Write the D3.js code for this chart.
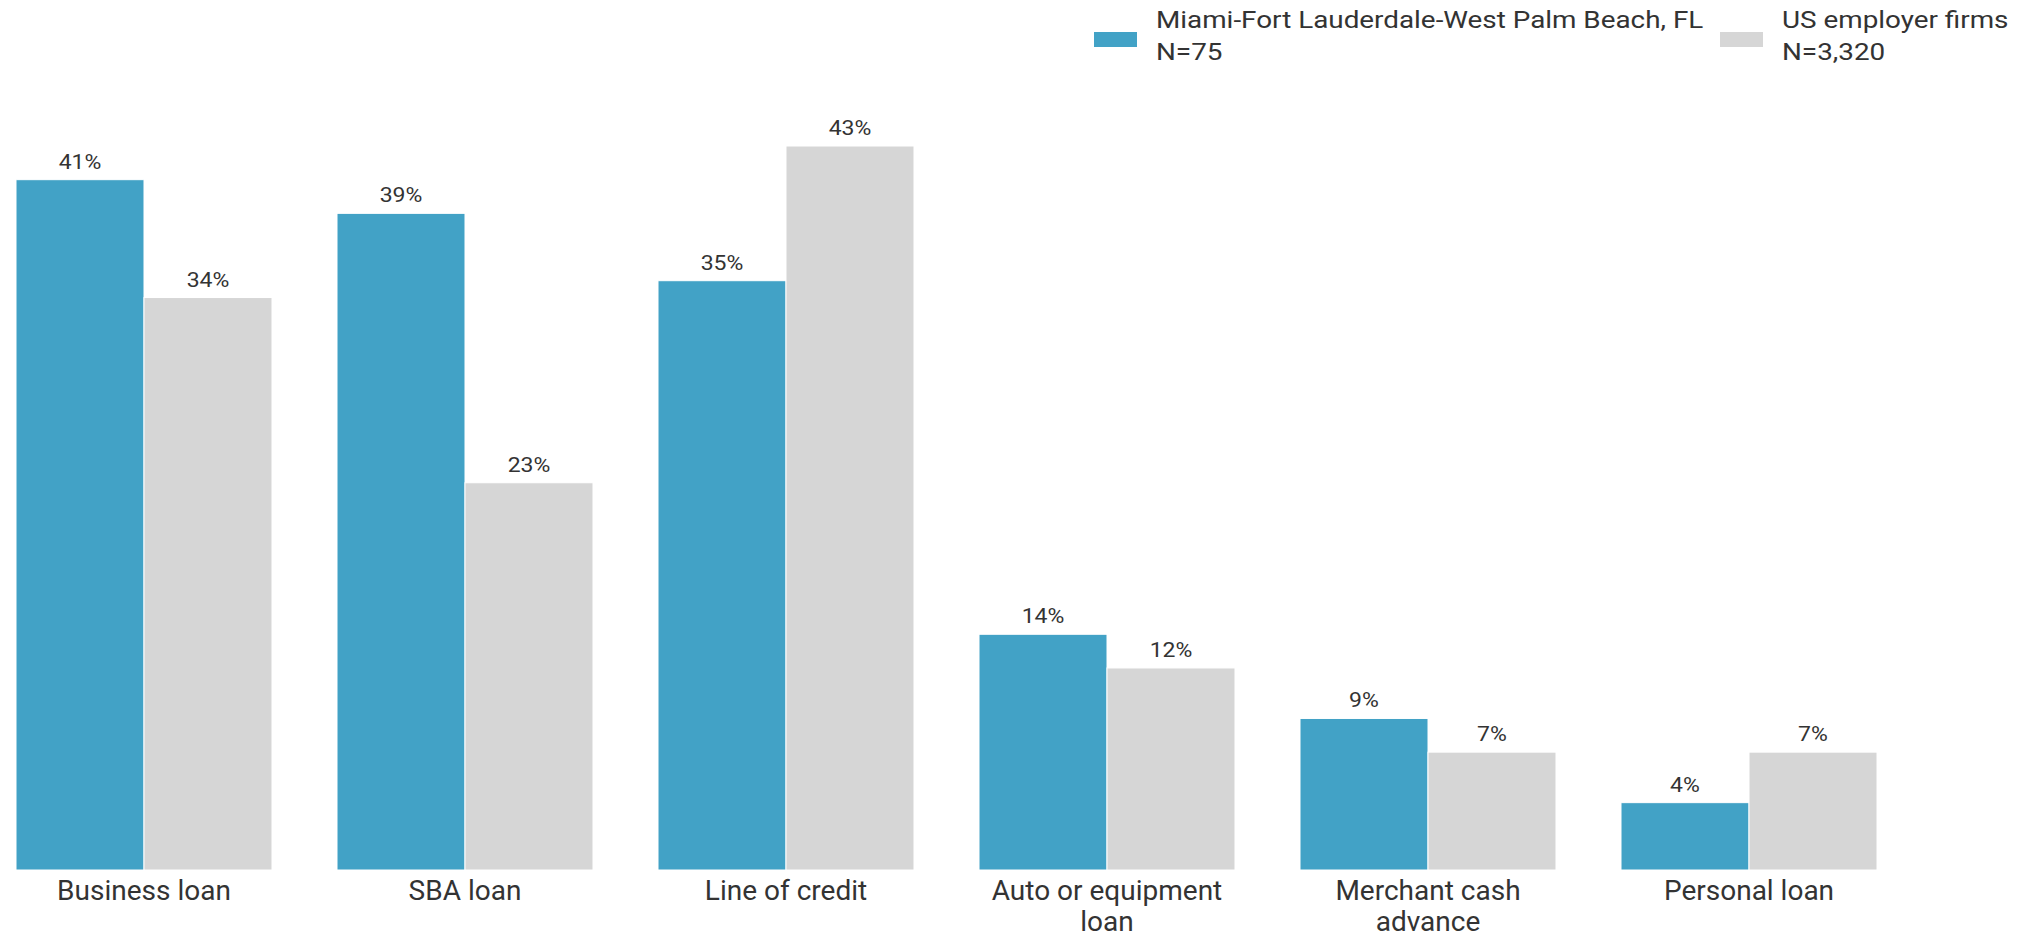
<!DOCTYPE html>
<html>
<head>
<meta charset="utf-8">
<script src="https://cdn.jsdelivr.net/npm/d3@7"></script>
<style>
html,body{margin:0;padding:0;background:#fff;}
svg{display:block;font-family:Roboto,"Noto Sans",sans-serif;}
</style>
</head>
<body>
<svg id="chart" width="2036" height="934"></svg>
<script>
const categories = [["Business loan"],["SBA loan"],["Line of credit"],["Auto or equipment","loan"],["Merchant cash","advance"],["Personal loan"]];
const seriesNames = ["Miami-Fort Lauderdale-West Palm Beach, FL","US employer firms"];
const seriesN = ["N=75","N=3,320"];
const miamiValues = [41,39,35,14,9,4];
const usValues = [34,23,43,12,7,7];
const colors = ["#42a2c6","#d6d6d6"];

const svg = d3.select("#chart");
const catKeys = categories.map(c => c.join(" "));
const x0 = d3.scaleBand().domain(catKeys).range([16, 1877]).paddingInner(0.2025).paddingOuter(0);
const x1 = d3.scaleBand().domain([0,1]).range([0, x0.bandwidth()]).padding(0);
const y = d3.scaleLinear().domain([0, 43]).range([870, 146]);

const data = catKeys.map((k,i) => ({key:k, lines:categories[i], vals:[miamiValues[i], usValues[i]]}));

const g = svg.append("g");
const groups = g.selectAll("g.grp").data(data).join("g").attr("class","grp")
  .attr("transform", d => `translate(${x0(d.key)},0)`);

groups.selectAll("rect").data(d => d.vals.map((v,j)=>({v,j}))).join("rect")
  .attr("x", d => x1(d.j))
  .attr("y", d => y(d.v))
  .attr("width", x1.bandwidth())
  .attr("height", d => y(0) - y(d.v))
  .attr("fill", d => colors[d.j])
  .attr("stroke", "#fff").attr("stroke-width", 1);

groups.selectAll("text.val").data(d => d.vals.map((v,j)=>({v,j}))).join("text")
  .attr("class","val")
  .attr("transform", d => `translate(${x1(d.j) + x1.bandwidth()/2},${y(d.v) - 11}) scale(1.15,1)`)
  .attr("text-anchor","middle")
  .attr("font-size", 20)
  .attr("fill","#333")
  .text(d => d.v + "%");

// category axis labels
const xAxis = d3.axisBottom(x0).tickSize(0).tickFormat("");
const axG = g.append("g").attr("transform", `translate(0,${y(0)})`).call(xAxis);
axG.select(".domain").remove();
axG.selectAll(".tick").each(function(d,i){
  const t = d3.select(this).append("text")
    .attr("text-anchor","middle")
    .attr("font-size", 28)
    .attr("fill","#333")
    .attr("font-family","Roboto");
  categories[i].forEach((ln, k) => {
    t.append("tspan").attr("x", 0).attr("y", 30 + k*31).text(ln);
  });
});

// legend
const legX = [1094, 1720];
const leg = svg.append("g");
seriesNames.forEach((s, i) => {
  const lg = leg.append("g").attr("transform", `translate(${legX[i]},0)`);
  lg.append("rect").attr("x",0).attr("y",32).attr("width",43).attr("height",15).attr("fill",colors[i]);
  const t = lg.append("text").attr("font-size",24).attr("fill","#333")
    .attr("transform","translate(62,0) scale(1.16,1)");
  t.append("tspan").attr("x",0).attr("y",28).text(s);
  t.append("tspan").attr("x",0).attr("y",60).text(seriesN[i]);
});
</script>
</body>
</html>
